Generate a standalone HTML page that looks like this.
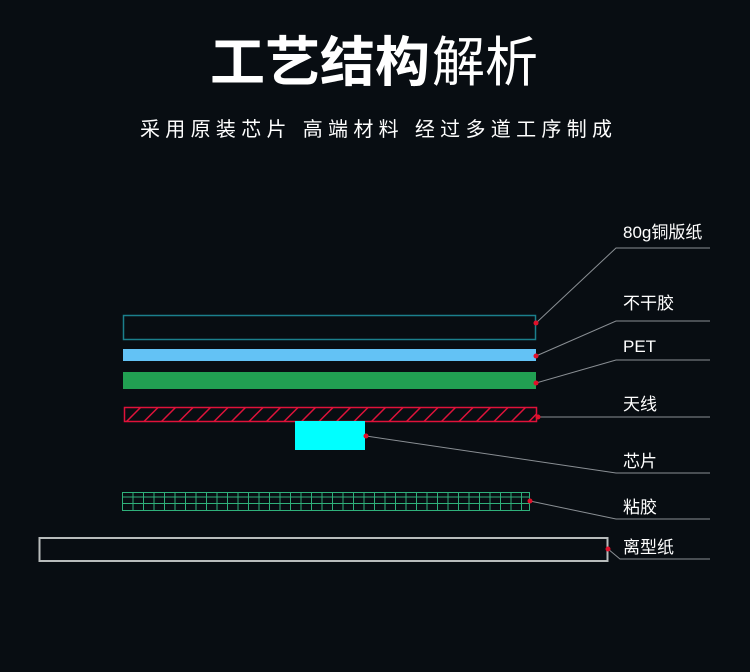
<!DOCTYPE html>
<html><head><meta charset="utf-8"><style>
html,body{margin:0;padding:0;background:#080d12;}
svg{display:block;}
text{font-family:"Liberation Sans","Noto Sans CJK SC",sans-serif;fill:#fff;}
</style></head><body>
<svg width="750" height="672" viewBox="0 0 750 672" xmlns="http://www.w3.org/2000/svg">
<rect width="750" height="672" fill="#080d12"/>
<defs>
<pattern id="hatch" patternUnits="userSpaceOnUse" width="17.5" height="15" x="126" y="407">
<line x1="0" y1="15" x2="15" y2="0" stroke="#e0123a" stroke-width="1.5"/>
</pattern>
</defs>
<text x="210" y="81" font-size="54" font-weight="bold" textLength="220" lengthAdjust="spacingAndGlyphs">工艺结构</text>
<text x="432" y="81" font-size="54" textLength="106" lengthAdjust="spacingAndGlyphs">解析</text>
<text x="140" y="136" font-size="20" textLength="472" lengthAdjust="spacing">采用原装芯片 高端材料 经过多道工序制成</text>

<!-- layers -->
<rect x="123.5" y="315.5" width="412" height="24" fill="none" stroke="#1b7f8c" stroke-width="1.5"/>
<rect x="123" y="349" width="413" height="12" fill="#63c2f5"/>
<rect x="123" y="372" width="413" height="17" fill="#21a052"/>
<rect x="124.5" y="407.5" width="412" height="14" fill="url(#hatch)" stroke="#e0123a" stroke-width="1.5"/>
<rect x="295" y="421" width="70" height="29" fill="#00ffff"/>
<g stroke="#2fb07a" stroke-width="1">
<rect x="122.5" y="492.5" width="407" height="18" fill="none"/>
<line x1="122" y1="497" x2="530" y2="497"/>
<line x1="122" y1="503.5" x2="530" y2="503.5"/>
</g>
<g stroke="#2fb07a" stroke-width="1" id="vg"></g>
<rect x="39.5" y="538" width="568" height="23" fill="none" stroke="#b8bcbc" stroke-width="2"/>

<!-- connectors -->
<g stroke="#8a8f94" stroke-width="1" fill="none">
<polyline points="536,323 616,248 710,248"/>
<polyline points="536,356 616,321 710,321"/>
<polyline points="536,383 616,360 710,360"/>
<polyline points="538,417 710,417"/>
<polyline points="366,436 616,473 710,473"/>
<polyline points="530,501 616,519 710,519"/>
<polyline points="608,549 620,559 710,559"/>
</g>
<g fill="#e0102a">
<circle cx="536" cy="323" r="2.5"/><circle cx="536" cy="356" r="2.5"/>
<circle cx="536" cy="383" r="2.5"/><circle cx="538" cy="417" r="2.5"/>
<circle cx="366" cy="436" r="2.5"/><circle cx="530" cy="501" r="2.5"/>
<circle cx="608" cy="549" r="2.5"/>
</g>
<g font-size="17">
<text x="623" y="238">80g铜版纸</text>
<text x="623" y="309">不干胶</text>
<text x="623" y="352">PET</text>
<text x="623" y="410">天线</text>
<text x="623" y="467">芯片</text>
<text x="623" y="513">粘胶</text>
<text x="623" y="553">离型纸</text>
</g>
<script>
var g=document.getElementById('vg');
for(var x=133;x<530;x+=10.5){var l=document.createElementNS('http://www.w3.org/2000/svg','line');l.setAttribute('x1',x);l.setAttribute('x2',x);l.setAttribute('y1',492);l.setAttribute('y2',511);g.appendChild(l);}
</script>
</svg>
</body></html>
